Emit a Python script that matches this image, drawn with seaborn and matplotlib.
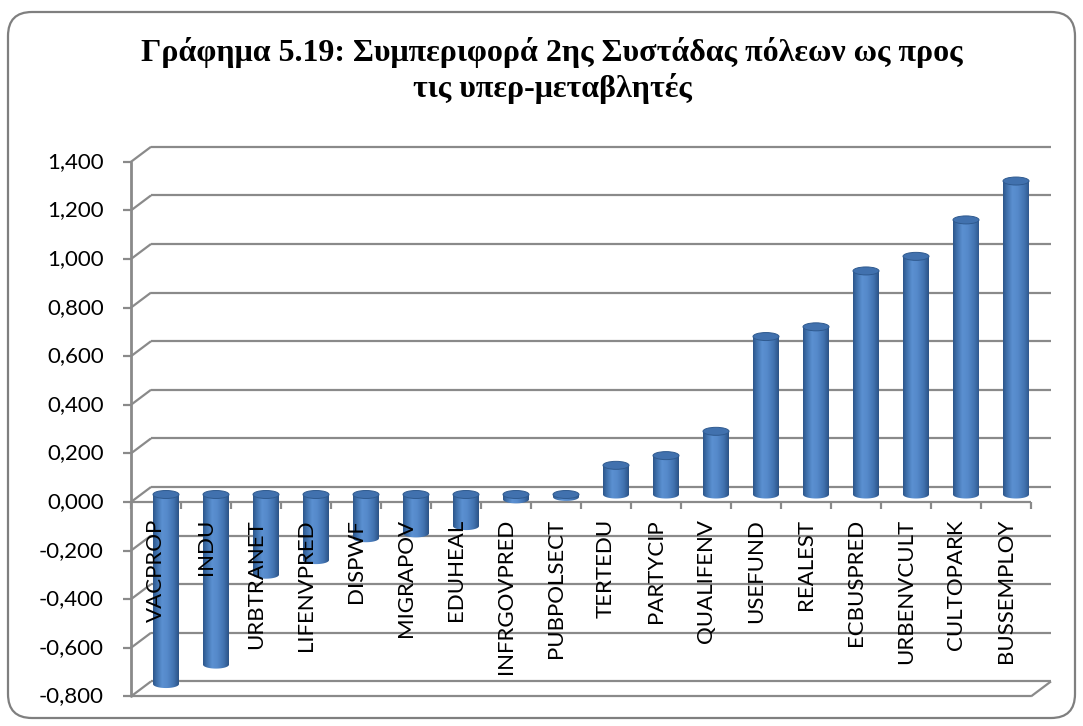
import numpy as np
import pandas as pd
import seaborn as sns
import matplotlib
matplotlib.use("Agg")
import matplotlib.pyplot as plt
from matplotlib.patches import Ellipse, FancyBboxPatch, PathPatch
from matplotlib.path import Path
from matplotlib.colors import LinearSegmentedColormap
from matplotlib.transforms import IdentityTransform

# ---- data -------------------------------------------------------------
categories = ["VACPROP", "INDU", "URBTRANET", "LIFENVPRED", "DISPWF", "MIGRAPOV",
              "EDUHEAL", "INFRGOVPRED", "PUBPOLSECT", "TERTEDU", "PARTYCIP",
              "QUALIFENV", "USEFUND", "REALEST", "ECBUSPRED", "URBENVCULT",
              "CULTOPARK", "BUSSEMPLOY"]
values = [-0.78, -0.70, -0.33, -0.27, -0.18, -0.16, -0.13, -0.02, -0.01,
          0.12, 0.16, 0.26, 0.65, 0.69, 0.92, 0.98, 1.13, 1.29]
y_ticks = [-0.8, -0.6, -0.4, -0.2, 0.0, 0.2, 0.4, 0.6, 0.8, 1.0, 1.2, 1.4]
y_tick_labels = [f"{v:.3f}".replace(".", ",") for v in y_ticks]
title_lines = ["Γράφημα 5.19: Συμπεριφορά 2ης Συστάδας πόλεων ως προς",
               "τις υπερ-μεταβλητές"]

# ---- style ------------------------------------------------------------
sns.set_style("white")
plt.rcParams["font.family"] = ["Lato", "DejaVu Sans"]

W, H = 1083, 726
fig = plt.figure(figsize=(W / 100, H / 100), dpi=100)
fig.patch.set_facecolor("white")

# axes = the mid-depth plane of the pseudo-3D box (pixels)
left_px, right_px, top_px, bot_px = 141, 1041, 154.3, 688.9
ax = fig.add_axes([left_px / W, (H - bot_px) / H,
                   (right_px - left_px) / W, (bot_px - top_px) / H])

df = pd.DataFrame({"category": categories, "value": values})
sns.barplot(data=df, x="category", y="value", color="#4F81BD", saturation=1,
            width=0.52, ax=ax, zorder=3)

ax.set_xlim(-0.5, len(categories) - 0.5)
ax.set_ylim(y_ticks[0], y_ticks[-1])
ax.set_xlabel("")
ax.set_ylabel("")
ax.set_xticks([])
ax.set_yticks([])
for s in ax.spines.values():
    s.set_visible(False)
ax.patch.set_alpha(0)

# pixel -> data conversion for the depth offsets
p0 = ax.transData.transform((0, 0))
p1 = ax.transData.transform((1, 1))
sx, sy = p1[0] - p0[0], p1[1] - p0[1]
DX, DY = 10 / sx, 7.5 / sy          # half the box depth
xl, xr = -0.5, len(categories) - 0.5
ylo, yhi = y_ticks[0], y_ticks[-1]

grid_c = "#8A8A8A"
lw = 1.6
kw = dict(color=grid_c, lw=lw, clip_on=False, solid_capstyle="butt")

# back wall gridlines + slanted side connectors + tick marks
for v in y_ticks:
    ax.plot([xl + DX, xr + DX], [v + DY, v + DY], zorder=1, **kw)
    ax.plot([xl - DX, xl + DX], [v - DY, v + DY], zorder=1, **kw)
    ax.plot([xl - DX - 8 / sx, xl - DX], [v - DY, v - DY], zorder=2, **kw)

# front vertical axis
ax.plot([xl - DX, xl - DX], [ylo - DY, yhi - DY], zorder=2,
        color=grid_c, lw=2.0, clip_on=False)

# front edge of the zero plane with category ticks
ax.plot([xl - DX, xr - DX], [-DY, -DY], zorder=1.5, **kw)
for k in range(len(categories) + 1):
    xk = xl + k - DX
    ax.plot([xk, xk], [-DY, -DY - 7 / sy], zorder=1.5, **kw)

# floor front edge and its right-hand slant
ax.plot([xl - DX, xr - DX], [ylo - DY, ylo - DY], zorder=2, **kw)
ax.plot([xr - DX, xr + DX], [ylo - DY, ylo + DY], zorder=2, **kw)

# ---- cylinder shading on the seaborn bars ------------------------------
cyl = LinearSegmentedColormap.from_list(
    "cyl", [(0.0, "#2C5589"), (0.12, "#3C6CA7"), (0.35, "#5B90D1"),
            (0.55, "#5589CA"), (0.8, "#4273B0"), (1.0, "#2B5286")])
grad = np.linspace(0, 1, 256).reshape(1, -1)
e_h = 8 / sy

for p in list(ax.patches):
    x0, w = p.get_x(), p.get_width()
    y0, h = p.get_y(), p.get_height()
    lo, hi = min(y0, y0 + h), max(y0, y0 + h)
    xc = x0 + w / 2
    t = np.linspace(np.pi, 2 * np.pi, 40)
    arc = np.column_stack([xc + w / 2 * np.cos(t), lo + e_h / 2 * np.sin(t)])
    verts = np.vstack([[x0, hi], arc, [x0 + w, hi], [x0, hi]])
    body = PathPatch(Path(verts), transform=ax.transData, facecolor="none",
                     edgecolor="none")
    p.set_visible(False)
    im = ax.imshow(grad, extent=(x0, x0 + w, lo - e_h, hi), aspect="auto",
                   cmap=cyl, zorder=3, interpolation="bilinear")
    im.set_clip_path(body)
    cap = Ellipse((xc, hi), w, e_h, facecolor="#4171AE", edgecolor="#2F5A8F",
                  lw=0.7, zorder=4)
    ax.add_patch(cap)

ax.set_xlim(xl, xr)
ax.set_ylim(ylo, yhi)

# ---- text -------------------------------------------------------------
for v, lab in zip(y_ticks, y_tick_labels):
    ax.text(xl - DX - 27 / sx, v - DY, lab, ha="right", va="center",
            fontsize=16, color="black", clip_on=False)

for i, cat in enumerate(categories):
    ax.text(i - DX, -DY - 17 / sy, cat, rotation=90, ha="center", va="top",
            fontsize=16, color="black", clip_on=False, zorder=6)

title_font = dict(ha="center", va="baseline", fontsize=23, fontweight="bold",
                  family=["Liberation Serif", "DejaVu Serif"], color="black")
fig.text(552 / W, 1 - 61 / H, title_lines[0], **title_font)
fig.text(552 / W, 1 - 97 / H, title_lines[1], **title_font)

# rounded chart border
border = FancyBboxPatch((8, H - 718), 1067, 706,
                        boxstyle="round,pad=0,rounding_size=24",
                        transform=IdentityTransform(), fill=False,
                        edgecolor="#7F7F7F", lw=1.6)
fig.add_artist(border)

fig.savefig("out.png", dpi=100)
